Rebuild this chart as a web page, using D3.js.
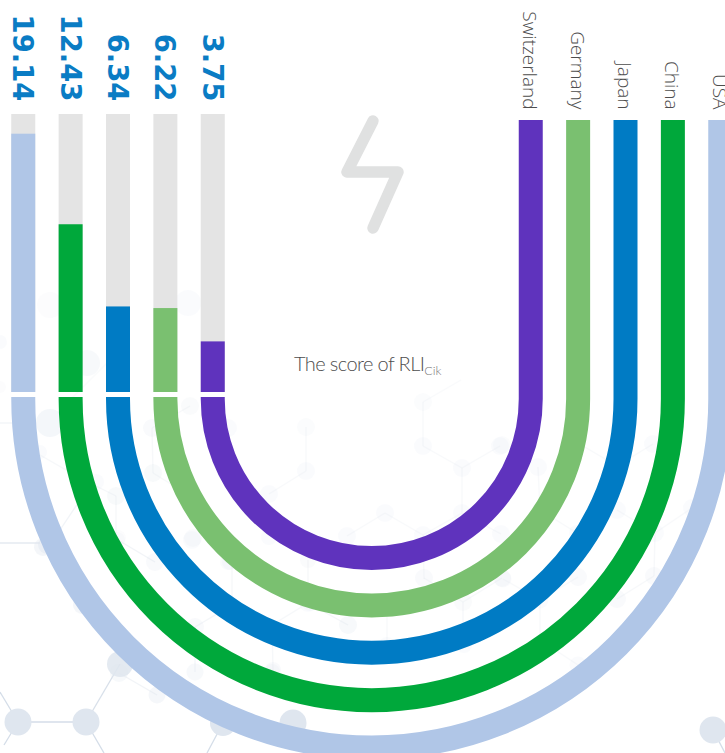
<!DOCTYPE html>
<html>
<head>
<meta charset="utf-8">
<style>
html, body { margin: 0; padding: 0; background: #fff; overflow: hidden; }
svg { display: block; }
</style>
<script src="https://cdn.jsdelivr.net/npm/d3@7"></script>
</head>
<body>
<svg id="chart" width="725" height="753"></svg>
<script>
// RLI scores per country, outermost ring first
const countries = ["USA", "China", "Japan", "Germany", "Switzerland"];
const scores = [19.14, 12.43, 6.34, 6.22, 3.75];
const scoreLabels = ["19.14", "12.43", "6.34", "6.22", "3.75"];
const ringColors = ["#b0c6e7", "#00a83b", "#007bc4", "#7ac070", "#5f33bd"];

// Decorative molecule backdrop: [x, y, radius, opacity]
const backdropNodes = [
  [18,722,13.5,1],[86,722,13.5,1],[223,723,13,1],[293,723,13.5,1],[713,730,13.5,1],
  [120,664,13,.85],[119,673,9,.25],[157,695,8.5,.3],[195,672,8.5,.25],[195,627,9,.18],
  [155,562,9,.18],[193,538,9,.16],[82,605,9,.35],[47,545,9,.4],[118,538,8,.1],
  [273,670,8,.2],[308,560,8,.16],[269,537,8,.14],[230,562,8,.15],[310,603,8,.15],
  [306,427,9,.13],[306,471,9,.15],[269,494,9,.15],[385,513,9,.15],[347,536,9,.15],
  [423,535,9,.15],[462,513,9,.15],[462,468,9,.15],[423,446,9,.15],[423,402,9,.11],
  [500,446,9,.15],[501,534,9,.15],[308,603,9,.15],[348,625,9,.24],[272,672,8,.2],
  [424,578,9,.18],[463,602,9,.16],[502,578,9,.16],[387,645,8,.14],[464,645,8,.14],
  [228,562,8,.15],[538,467,9,.15],[502,445,9,.11],[653,444,9,.15],[617,510,9,.15],
  [655,533,9,.15],[692,508,9,.15],[654,576,9,.18],[617,599,9,.18],[578,577,9,.18],
  [578,665,8.5,.15],[540,600,8.5,.15],[503,579,8.5,.15],[577,533,8,.15],[540,510,8,.15],
  [50,423,14,.33],[87,363,13,.25],[50,305,13,.1],[0,342,7,.14],[0,387,6,.1],
  [152,428,9,.2],[153,473,9,.22],[116,496,9,.22],[190,406,9,.16],[40,452,7,.15],
  [228,428,9,.15],[188,303,13,.14],[96,482,8,.15],[192,540,9,.15],[117,540,8,.12],[43,547,9,.35]
];

// Decorative molecule bonds: [x1, y1, x2, y2, opacity]
const backdropBonds = [
  [18,722,86,722,1],[86,722,120,664,.9],[86,722,104,753,1],[18,722,0,692,1],[18,722,4,745,1],
  [223,723,207,753,1],[713,730,725,753,1],[0,543,40,543,.6],[155,562,118,540,.3],[119,673,157,695,.3],
  [195,627,195,672,.25],[195,627,232,605,.25],[273,670,272,625,.2],[308,560,308,603,.2],[308,603,272,625,.2],
  [308,603,348,625,.25],[232,562,232,600,.2],[306,427,306,471,.15],[306,471,269,494,.15],[385,513,347,536,.15],
  [385,513,423,535,.15],[423,446,462,468,.15],[462,468,500,446,.15],[462,468,462,513,.15],[423,402,423,446,.15],
  [423,402,461,380,.12],[462,513,423,535,.15],[423,535,424,579,.15],[462,513,501,534,.15],[463,602,463,645,.18],
  [463,602,502,578,.18],[424,578,463,602,.18],[387,600,387,645,.15],[578,443,617,466,.15],[617,466,653,444,.15],
  [617,510,655,533,.15],[655,533,692,508,.15],[655,533,654,576,.18],[654,576,617,599,.18],[578,577,540,600,.15],
  [540,600,540,640,.15],[540,640,578,665,.15],[577,533,540,510,.15],[540,510,538,467,.15],[503,579,540,600,.15],
  [0,423,36,423,.25],[60,410,110,360,.1],[40,455,80,478,.2],[80,478,116,496,.2],[116,496,116,540,.2],
  [152,428,190,406,.18],[152,428,153,473,.18],[153,473,192,497,.18],[80,500,60,530,.3]
];

const svg = d3.select("#chart");
const backdrop = svg.append("g");

backdrop.selectAll("line").data(backdropBonds).join("line")
  .attr("x1", d => d[0]).attr("y1", d => d[1])
  .attr("x2", d => d[2]).attr("y2", d => d[3])
  .attr("stroke", "#d4dde8").attr("stroke-width", 1.3)
  .attr("opacity", d => d[4]);

backdrop.selectAll("circle").data(backdropNodes).join("circle")
  .attr("cx", d => d[0]).attr("cy", d => d[1]).attr("r", d => d[2])
  .attr("fill", "#dfe6ef").attr("opacity", d => d[3]);

// Lightning glyph in the middle of the horseshoe
const bolt = d3.line();
svg.append("path")
  .attr("d", bolt([[373, 121], [347, 172], [398, 172], [373, 228]]))
  .attr("fill", "none").attr("stroke", "#e0e1e1").attr("stroke-width", 11.5)
  .attr("stroke-linecap", "round").attr("stroke-linejoin", "round");

// Shared scales
const centerX = 371.75, centerY = 399, bandWidth = 24;
const radius = d3.scalePoint().domain(countries).range([348.5, 159]);
const barHeight = d3.scaleLinear().domain([0, 20.6]).range([392, 114]);
const barTop = barHeight(20.6), barBase = barHeight(0);

// Left column: grey track with the score filled from its base
const bars = svg.append("g").selectAll("g").data(countries).join("g");

bars.append("rect")
  .attr("x", d => centerX - radius(d) - bandWidth / 2)
  .attr("width", bandWidth)
  .attr("y", barTop)
  .attr("height", barBase - barTop)
  .attr("fill", "#e4e4e4");

bars.append("rect")
  .attr("x", d => centerX - radius(d) - bandWidth / 2)
  .attr("width", bandWidth)
  .attr("y", (d, i) => barHeight(scores[i]))
  .attr("height", (d, i) => barBase - barHeight(scores[i]))
  .attr("fill", (d, i) => ringColors[i]);

// Score labels read downwards above each bar
svg.append("g").selectAll("text").data(countries).join("text")
  .attr("transform", d => `translate(${centerX - radius(d)},101.5) rotate(90)`)
  .attr("text-anchor", "end")
  .attr("dominant-baseline", "central")
  .attr("font-family", "'DejaVu Sans', sans-serif")
  .attr("font-weight", 700)
  .attr("font-size", 27.5)
  .attr("fill", "#0a7cc4")
  .text((d, i) => scoreLabels[i]);

// Each ring runs from the left column under the centre and up the right column
const ringPath = r => {
  const p = d3.path();
  p.moveTo(centerX - r, 397);
  p.lineTo(centerX - r, centerY);
  p.arc(centerX, centerY, r, Math.PI, 0, true);
  p.lineTo(centerX + r, 120);
  return p.toString();
};

svg.append("g").selectAll("path").data(countries).join("path")
  .attr("d", d => ringPath(radius(d)))
  .attr("fill", "none")
  .attr("stroke-width", bandWidth)
  .attr("stroke", (d, i) => ringColors[i]);

// Country names above the right column
svg.append("g").selectAll("text").data(countries).join("text")
  .attr("transform", d => `translate(${centerX + radius(d) - 0.5},109.5) rotate(90)`)
  .attr("text-anchor", "end")
  .attr("dominant-baseline", "central")
  .attr("font-family", "'Open Sans', sans-serif")
  .attr("font-weight", 300)
  .attr("font-size", 19)
  .attr("fill", "#4d4d4d")
  .text(d => d);

// Axis caption with subscript
const caption = svg.append("text")
  .attr("x", 294).attr("y", 371)
  .attr("font-family", "Lato, sans-serif")
  .attr("font-weight", 300)
  .attr("font-size", 20)
  .attr("letter-spacing", -0.6)
  .attr("fill", "#4d4d4d");
caption.append("tspan").text("The score of RLI");
caption.append("tspan").attr("dy", 4).attr("font-size", 12.5).attr("letter-spacing", 0).attr("fill", "#777").text("Cik");
</script>
</body>
</html>
